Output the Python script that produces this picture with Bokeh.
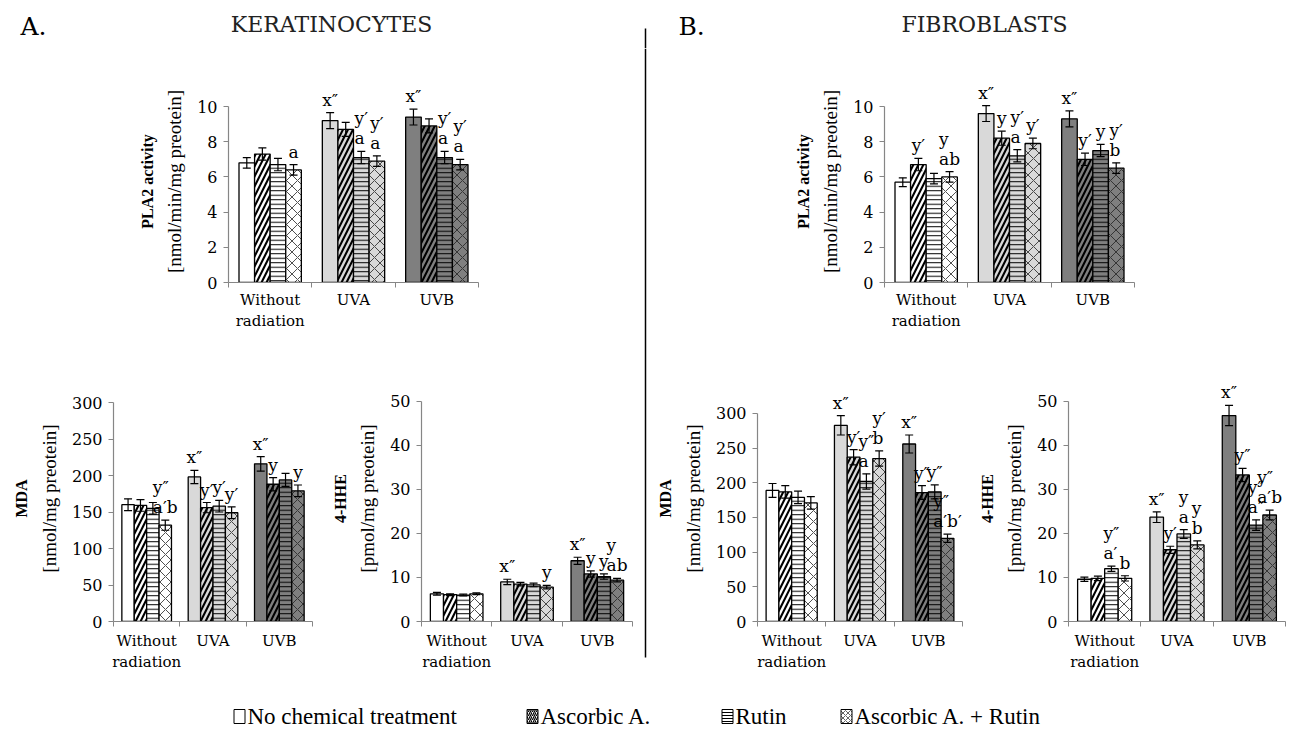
from bokeh.plotting import figure
from bokeh.models import Range1d, FixedTicker, LinearAxis, Whisker, TeeHead, LabelSet, ColumnDataSource
from bokeh.layouts import row, column
from bokeh.embed import file_html
from bokeh.resources import INLINE
from bokeh.core.properties import value

# ---------------- data ----------------
categories = ["Without\nradiation", "UVA", "UVB"]
treatments = ["No chemical treatment", "Ascorbic A.", "Rutin", "Ascorbic A. + Rutin"]

# Keratinocytes - PLA2 activity [nmol/min/mg preotein]
ker_pla2_nc = [6.8, 9.2, 9.4]
ker_pla2_asc = [7.3, 8.7, 8.9]
ker_pla2_rut = [6.7, 7.1, 7.1]
ker_pla2_mix = [6.4, 6.9, 6.7]
ker_pla2_err = [[0.3, 0.45, 0.45], [0.35, 0.4, 0.4], [0.35, 0.35, 0.35], [0.3, 0.3, 0.3]]
ker_pla2_lab = [["", "x″", "x″"], ["", "", ""], ["", "y′\na", "y′\na"], ["a", "y′\na", "y′\na"]]

# Keratinocytes - MDA [nmol/mg preotein]
ker_mda_nc = [160, 198, 216]
ker_mda_asc = [159, 156, 188]
ker_mda_rut = [155, 158, 194]
ker_mda_mix = [132, 149, 179]
ker_mda_err = [[8, 9, 10], [8, 7, 9], [8, 8, 9], [7, 8, 8]]
ker_mda_lab = [["", "x″", "x″"], ["", "y′", "y"], ["", "y′", ""], ["y″\na′b", "y′", "y"]]

# Keratinocytes - 4-HHE [pmol/mg preotein]
ker_hhe_nc = [6.3, 9.0, 13.8]
ker_hhe_asc = [6.1, 8.5, 10.8]
ker_hhe_rut = [6.0, 8.3, 10.2]
ker_hhe_mix = [6.3, 7.8, 9.4]
ker_hhe_err = [[0.3, 0.6, 0.8], [0.2, 0.4, 0.7], [0.2, 0.4, 0.6], [0.2, 0.4, 0.4]]
ker_hhe_lab = [["", "x″", "x″"], ["", "", "y"], ["", "", "y"], ["", "y", "y\nab"]]

# Fibroblasts - PLA2 activity
fib_pla2_nc = [5.7, 9.6, 9.3]
fib_pla2_asc = [6.7, 8.2, 7.0]
fib_pla2_rut = [5.9, 7.2, 7.5]
fib_pla2_mix = [6.0, 7.9, 6.5]
fib_pla2_err = [[0.25, 0.45, 0.45], [0.35, 0.4, 0.35], [0.3, 0.35, 0.35], [0.3, 0.3, 0.3]]
fib_pla2_lab = [["", "x″", "x″"], ["y′", "y", "y′"], ["", "y′\na", "y"], ["y\nab", "y′", "y′\nb"]]

# Fibroblasts - MDA
fib_mda_nc = [189, 283, 256]
fib_mda_asc = [187, 237, 186]
fib_mda_rut = [179, 202, 187]
fib_mda_mix = [171, 235, 120]
fib_mda_err = [[10, 14, 13], [9, 11, 10], [9, 11, 10], [9, 11, 6]]
fib_mda_lab = [["", "x″", "x″"], ["", "y′", "y″"], ["", "y″\na", "y″"], ["", "y′\nb", "y″\na′b′"]]

# Fibroblasts - 4-HHE
fib_hhe_nc = [9.6, 23.7, 46.8]
fib_hhe_asc = [9.8, 16.3, 33.3]
fib_hhe_rut = [12.0, 19.9, 21.9]
fib_hhe_mix = [9.8, 17.4, 24.2]
fib_hhe_err = [[0.5, 1.2, 2.3], [0.5, 0.8, 1.5], [0.6, 1.0, 1.2], [0.6, 0.9, 1.1]]
fib_hhe_lab = [["", "x″", "x″"], ["", "y′", "y″"], ["y″\na′", "y\na", "y″\na″"], ["b", "y\nb", "y″\na′b"]]

# ---------------- styles ----------------
FONT = "DejaVu Serif"
LFONT = "Liberation Serif"
AXIS_GRAY = "#868686"
GROUP_FILLS = ["white", "#d9d9d9", "#7f7f7f"]
SERIES_STYLE = [
    dict(hatch_pattern=None),
    dict(hatch_pattern="/", hatch_scale=10, hatch_weight=2.1, hatch_color="black"),
    dict(hatch_pattern="-", hatch_scale=4.5, hatch_weight=1.0, hatch_color="black"),
    dict(hatch_pattern="x", hatch_scale=11, hatch_weight=0.8, hatch_color="#222222"),
]
BAR_W = 0.187
PAGE_W = 1290


def chart(width, height, bl, br, bt, bb, ytop, ymax, ystep, series, errs, labs, ylab_bold, ylab,
          xstand):
    p = figure(width=width, height=height, x_range=Range1d(0, 3), y_range=Range1d(0, ytop),
               output_backend="svg", toolbar_location=None,
               min_border_left=bl, min_border_right=br, min_border_top=bt, min_border_bottom=bb)
    p.xgrid.visible = False
    p.ygrid.visible = False
    p.outline_line_color = None
    p.background_fill_color = "white"
    p.border_fill_color = "white"

    for s in range(4):
        xs = [g + 0.5 + (s - 1.5) * BAR_W for g in range(len(categories))]
        vals = series[s]
        src = ColumnDataSource(dict(
            x=xs, top=vals, fill=GROUP_FILLS,
            lower=[v - e for v, e in zip(vals, errs[s])],
            upper=[v + e for v, e in zip(vals, errs[s])],
            label=labs[s]))
        p.vbar(x="x", top="top", width=BAR_W, source=src, fill_color="fill",
               line_color="black", line_width=1.3, **SERIES_STYLE[s])
        p.add_layout(Whisker(base="x", upper="upper", lower="lower", source=src,
                             line_color="black", line_width=1.2, level="overlay",
                             upper_head=TeeHead(size=8, line_width=1.2, line_color="black"),
                             lower_head=TeeHead(size=8, line_width=1.2, line_color="black")))
        p.add_layout(LabelSet(x="x", y="upper", text="label", source=src,
                              text_align="center", text_baseline="bottom", y_offset=3,
                              text_font=value(FONT), text_font_size="17px",
                              text_color="black", text_line_height=1.0, level="overlay"))

    xa = p.xaxis[0]
    xa.ticker = FixedTicker(ticks=[i + 0.5 for i in range(len(categories))],
                            minor_ticks=list(range(len(categories) + 1)))
    xa.major_label_overrides = {i + 0.5: c for i, c in enumerate(categories)}
    xa.major_tick_out = 0
    xa.major_tick_in = 0
    xa.minor_tick_out = 5
    xa.minor_tick_in = 0
    xa.minor_tick_line_color = AXIS_GRAY
    xa.axis_line_color = AXIS_GRAY
    xa.axis_line_width = 1.2
    xa.major_label_text_font = FONT
    xa.major_label_text_font_size = "15px"
    xa.major_label_text_color = "black"
    xa.major_label_standoff = xstand

    ya = p.yaxis[0]
    ya.bounds = (0, ymax)
    ya.ticker = FixedTicker(ticks=list(range(0, ymax + 1, ystep)))
    ya.axis_line_color = AXIS_GRAY
    ya.axis_line_width = 1.2
    ya.major_tick_line_color = AXIS_GRAY
    ya.major_tick_out = 5
    ya.major_tick_in = 0
    ya.minor_tick_out = 0
    ya.minor_tick_in = 0
    ya.major_label_text_font = FONT
    ya.major_label_text_font_size = "16px"
    ya.major_label_text_color = "black"
    ya.major_label_standoff = 6
    ya.axis_label = ylab
    ya.axis_label_text_font = LFONT
    ya.axis_label_text_font_style = "normal"
    ya.axis_label_text_font_size = "19px"
    ya.axis_label_text_color = "black"
    ya.axis_label_standoff = 9

    ax2 = LinearAxis(ticker=FixedTicker(ticks=[]), axis_label=ylab_bold, bounds=(0, ymax),
                     axis_line_color=None, major_tick_out=0, major_tick_in=0,
                     minor_tick_out=0, minor_tick_in=0, major_label_text_font_size="0px",
                     axis_label_text_font=LFONT, axis_label_text_font_style="bold",
                     axis_label_text_font_size="16px", axis_label_text_color="black",
                     axis_label_standoff=6)
    p.add_layout(ax2, "left")
    return p


def blank(width, height, x0, x1, y_top, y_bottom):
    p = figure(width=width, height=height, x_range=Range1d(x0, x1), y_range=Range1d(y_bottom, y_top),
               output_backend="svg", toolbar_location=None, min_border=0,
               x_axis_type=None, y_axis_type=None)
    p.xgrid.visible = False
    p.ygrid.visible = False
    p.outline_line_color = None
    p.border_fill_color = "white"
    return p


# ---------------- header (page pixel coordinates) ----------------
hdr = blank(PAGE_W, 48, 0, PAGE_W, 0, 48)
hdr.text(x=[20, 678], y=[26, 26], text=["A.", "B."], text_font=value(FONT), text_font_size="25px",
         text_baseline="middle", text_align="left", text_color="black")
hdr.text(x=[331, 984], y=[24, 24], text=["KERATINOCYTES", "FIBROBLASTS"], text_font=value(FONT),
         text_font_size="22px", text_baseline="middle", text_align="center", text_color="#222222")
hdr.segment(x0=[645], y0=[28], x1=[645], y1=[48], line_color="black", line_width=1.5)

# ---------------- charts ----------------
A_pla2 = chart(642, 297, 228, 164, 32, 63, 11.48, 10, 2,
               [ker_pla2_nc, ker_pla2_asc, ker_pla2_rut, ker_pla2_mix], ker_pla2_err, ker_pla2_lab,
               "PLA2 activity", "[nmol/min/mg preotein]", 3)
A_mda = chart(320, 335, 113, 8, 30, 59, 337, 300, 50,
              [ker_mda_nc, ker_mda_asc, ker_mda_rut, ker_mda_mix], ker_mda_err, ker_mda_lab,
              "MDA", "[nmol/mg preotein]", 5)
A_hhe = chart(322, 335, 101, 10, 30, 59, 55.9, 50, 10,
              [ker_hhe_nc, ker_hhe_asc, ker_hhe_rut, ker_hhe_mix], ker_hhe_err, ker_hhe_lab,
              "4-HHE", "[pmol/mg preotein]", 5)
B_pla2 = chart(642, 297, 236, 156, 32, 63, 11.48, 10, 2,
               [fib_pla2_nc, fib_pla2_asc, fib_pla2_rut, fib_pla2_mix], fib_pla2_err, fib_pla2_lab,
               "PLA2 activity", "[nmol/min/mg preotein]", 3)
B_mda = chart(327, 335, 109, 13, 30, 59, 354.8, 300, 50,
              [fib_mda_nc, fib_mda_asc, fib_mda_rut, fib_mda_mix], fib_mda_err, fib_mda_lab,
              "MDA", "[nmol/mg preotein]", 5)
B_hhe = chart(315, 335, 91, 5, 30, 59, 55.9, 50, 10,
              [fib_hhe_nc, fib_hhe_asc, fib_hhe_rut, fib_hhe_mix], fib_hhe_err, fib_hhe_lab,
              "4-HHE", "[pmol/mg preotein]", 5)

# ---------------- divider ----------------
div = blank(6, 632, 642, 648, 48, 680)
div.segment(x0=[645], y0=[48], x1=[645], y1=[657], line_color="black", line_width=1.5)

# ---------------- legend ----------------
leg = blank(PAGE_W, 48, 0, PAGE_W, 680, 728)
LEG_BOX_X = [239, 532, 727, 846]
LEG_BOX_STYLE = [
    dict(hatch_pattern=None),
    dict(hatch_pattern="/", hatch_scale=4, hatch_weight=1.2, hatch_color="black"),
    dict(hatch_pattern="-", hatch_scale=3, hatch_weight=1.0, hatch_color="black"),
    dict(hatch_pattern="x", hatch_scale=5, hatch_weight=0.7, hatch_color="#222222"),
]
for i, name in enumerate(treatments):
    leg.rect(x=[LEG_BOX_X[i]], y=[716], width=11, height=14, fill_color="white",
             line_color="black", line_width=1.0, **LEG_BOX_STYLE[i])
    leg.text(x=[LEG_BOX_X[i] + 8], y=[716], text=[name], text_font=value(LFONT),
             text_font_size="23px", text_baseline="middle", text_align="left",
             text_color="black")

left = column(A_pla2, row(A_mda, A_hhe))
right = column(B_pla2, row(B_mda, B_hhe))
page = column(hdr, row(left, div, right), leg)

open("out.html", "w").write(file_html(page, INLINE))
